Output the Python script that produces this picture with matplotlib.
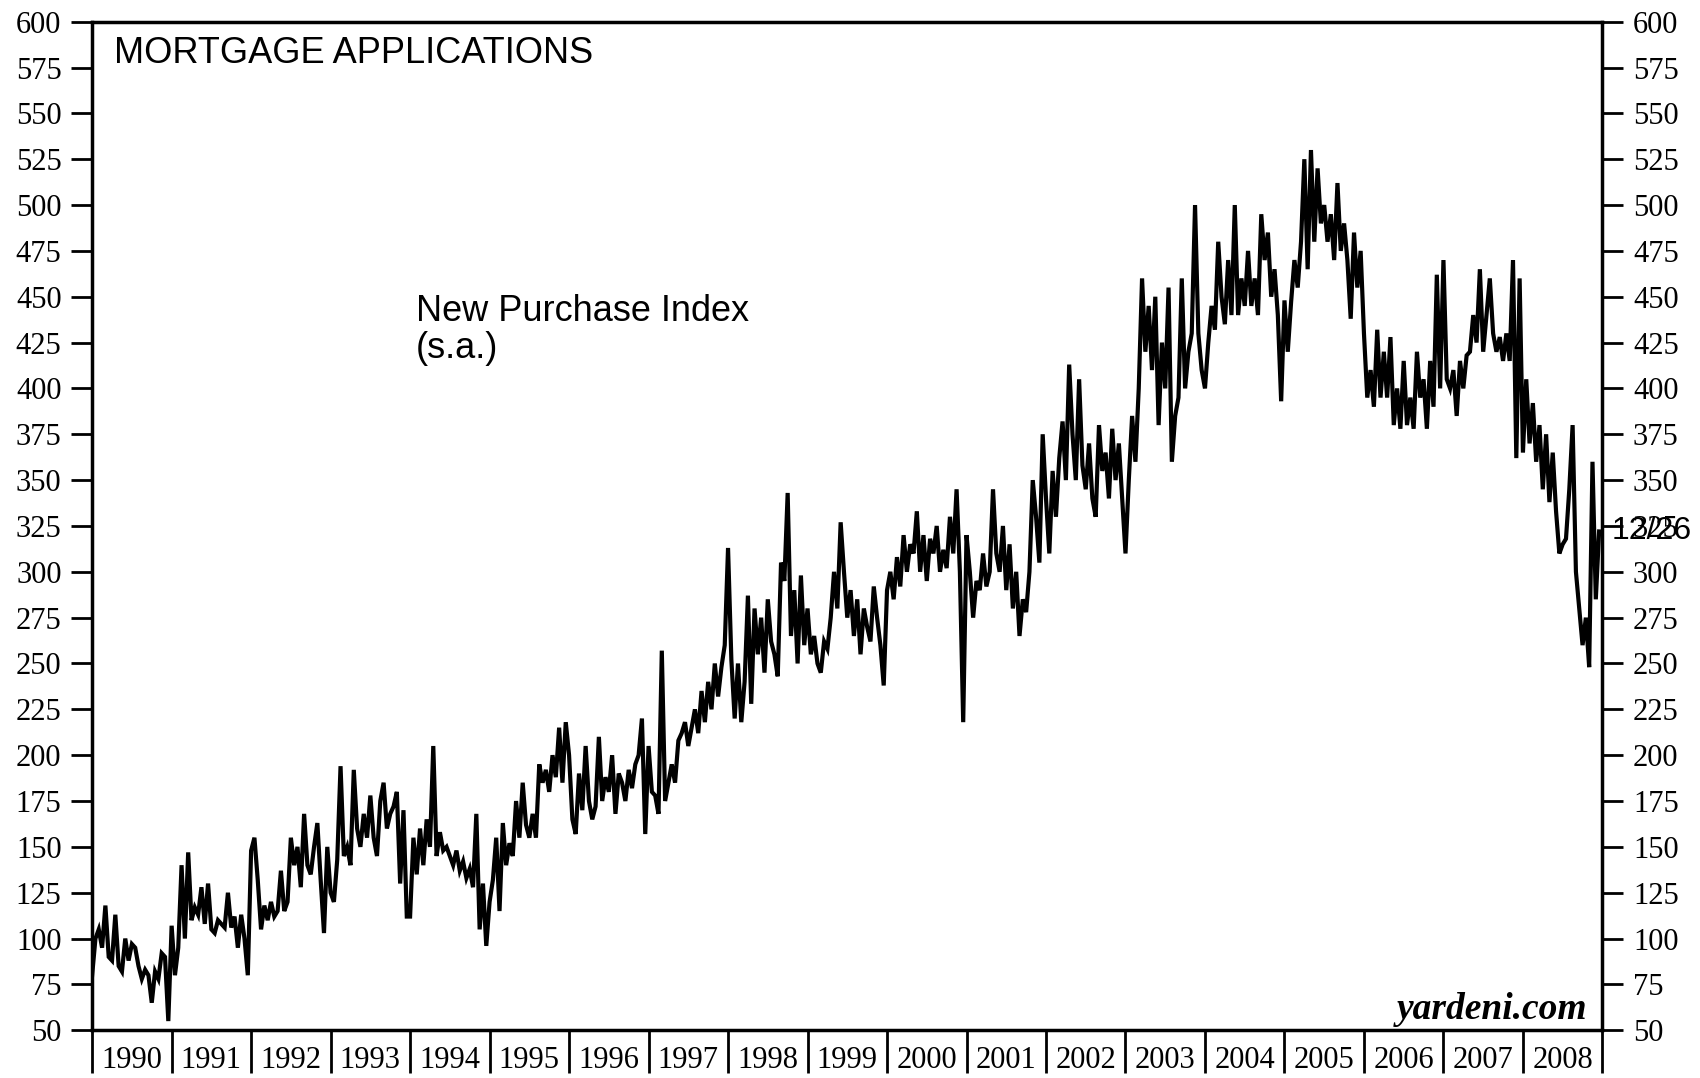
import numpy as np
import matplotlib.pyplot as plt
from matplotlib.ticker import MultipleLocator, FixedLocator, NullFormatter

# -------------------- Data (semi-monthly readings, New Purchase Index s.a.) --------------------
years = list(range(1990, 2009))

v1990 = [80, 100, 105, 95, 118, 90, 88, 113, 85, 82, 100, 88, 97, 95, 85, 78, 83, 80, 65, 82, 78, 92, 90, 55]
v1991 = [107, 80, 95, 140, 100, 147, 110, 117, 113, 128, 108, 130, 105, 103, 110, 108, 106, 125, 106, 112, 95, 113, 100, 80]
v1992 = [148, 155, 132, 105, 118, 110, 120, 112, 115, 137, 115, 120, 155, 140, 150, 128, 168, 140, 135, 150, 163, 132, 103, 150]
v1993 = [125, 120, 143, 194, 145, 150, 140, 192, 160, 150, 168, 155, 178, 155, 145, 175, 185, 160, 168, 172, 180, 130, 170, 112]
v1994 = [112, 155, 135, 160, 140, 165, 150, 205, 145, 158, 148, 150, 145, 140, 148, 137, 142, 133, 138, 128, 168, 105, 130, 96]
v1995 = [120, 132, 155, 115, 163, 140, 152, 145, 175, 155, 185, 162, 155, 168, 155, 195, 185, 192, 180, 200, 188, 215, 185, 218]
v1996 = [200, 165, 157, 190, 170, 205, 175, 165, 172, 210, 175, 188, 180, 200, 168, 190, 185, 175, 192, 182, 195, 200, 220, 157]
v1997 = [205, 180, 178, 168, 257, 175, 185, 195, 185, 208, 212, 218, 205, 215, 225, 212, 235, 218, 240, 225, 250, 232, 248, 260]
v1998 = [313, 252, 220, 250, 218, 240, 287, 228, 280, 255, 275, 245, 285, 262, 255, 243, 305, 295, 343, 265, 290, 250, 298, 260]
v1999 = [280, 255, 265, 250, 245, 262, 258, 275, 300, 280, 327, 300, 275, 290, 265, 285, 255, 280, 270, 262, 292, 275, 260, 238]
v2000 = [290, 300, 285, 308, 292, 320, 300, 315, 310, 333, 300, 320, 295, 318, 310, 325, 300, 312, 302, 330, 310, 345, 300, 218]
v2001 = [320, 300, 275, 295, 290, 310, 292, 300, 345, 310, 300, 325, 290, 315, 280, 300, 265, 285, 278, 300, 350, 330, 305, 375]
v2002 = [340, 310, 355, 330, 362, 382, 350, 413, 375, 350, 405, 358, 345, 370, 340, 330, 380, 355, 365, 340, 378, 350, 370, 340]
v2003 = [310, 350, 385, 360, 400, 460, 420, 445, 410, 450, 380, 425, 400, 455, 360, 385, 395, 460, 400, 420, 430, 500, 430, 410]
v2004 = [400, 425, 445, 432, 480, 450, 435, 470, 440, 500, 440, 460, 445, 475, 445, 460, 440, 495, 470, 485, 450, 465, 440, 393]
v2005 = [448, 420, 447, 470, 455, 480, 525, 465, 530, 480, 520, 490, 500, 480, 495, 470, 512, 475, 490, 470, 438, 485, 455, 475]
v2006 = [430, 395, 410, 390, 432, 395, 420, 395, 428, 380, 400, 378, 415, 380, 395, 378, 420, 395, 405, 378, 415, 390, 462, 400]
v2007 = [470, 405, 400, 410, 385, 415, 400, 418, 420, 440, 425, 465, 420, 440, 460, 430, 420, 428, 415, 430, 415, 470, 362, 460]
v2008 = [365, 405, 370, 392, 360, 380, 345, 375, 338, 365, 333, 310, 315, 318, 345, 380, 300, 280, 260, 275, 248, 360, 285, 322]

values = (v1990 + v1991 + v1992 + v1993 + v1994 + v1995 + v1996 + v1997 + v1998 + v1999
          + v2000 + v2001 + v2002 + v2003 + v2004 + v2005 + v2006 + v2007 + v2008)
t = 1990 + np.arange(len(values)) / 24.0

last_label = '12/26'

# -------------------- Plot --------------------
fig = plt.figure(figsize=(17, 10.78), dpi=100)
ax = fig.add_axes([0.0542, 0.0443, 0.8884, 0.9356])

ax.plot(t, values, color='black', lw=3.0, solid_joinstyle='miter')

ax.set_xlim(1990, 2009)
ax.set_ylim(50, 600)

for s in ax.spines.values():
    s.set_linewidth(2.5)

# y axis ticks on both sides
ax.yaxis.set_major_locator(MultipleLocator(25))
ax.tick_params(axis='y', which='major', direction='out', length=15, width=2,
               left=True, right=True, labelleft=True, labelright=True, pad=7,
               labelsize=22)
for lab in ax.get_yticklabels():
    lab.set_family('Liberation Serif')

# x axis: long ticks at year boundaries, labels mid-year
ax.xaxis.set_major_locator(FixedLocator(years + [2009]))
ax.xaxis.set_major_formatter(NullFormatter())
ax.xaxis.set_minor_locator(FixedLocator([y + 0.5 for y in years]))
ax.set_xticklabels([str(y) for y in years], minor=True)
ax.tick_params(axis='x', which='major', direction='out', length=31, width=2)
ax.tick_params(axis='x', which='minor', length=0, pad=11, labelsize=22)
for lab in ax.get_xticklabels(minor=True):
    lab.set_family('Liberation Serif')

# -------------------- Text --------------------
ax.text(0.0144, 0.968, 'MORTGAGE APPLICATIONS', transform=ax.transAxes,
        fontsize=26, family='Liberation Sans', va='center', ha='left')
ax.text(0.2146, 0.7129, 'New Purchase Index', transform=ax.transAxes,
        fontsize=26, family='Liberation Sans', va='center', ha='left')
ax.text(0.2146, 0.6763, '(s.a.)', transform=ax.transAxes,
        fontsize=26, family='Liberation Sans', va='center', ha='left')
ax.text(0.99, 0.003, 'yardeni.com', transform=ax.transAxes, fontsize=27,
        family='Liberation Serif', style='italic', weight='bold', ha='right', va='bottom')
ax.text(1.006, values[-1], last_label, transform=ax.get_yaxis_transform(),
        fontsize=23, family='Liberation Sans', ha='left', va='center', clip_on=False)

fig.savefig('out.png', dpi=100)
